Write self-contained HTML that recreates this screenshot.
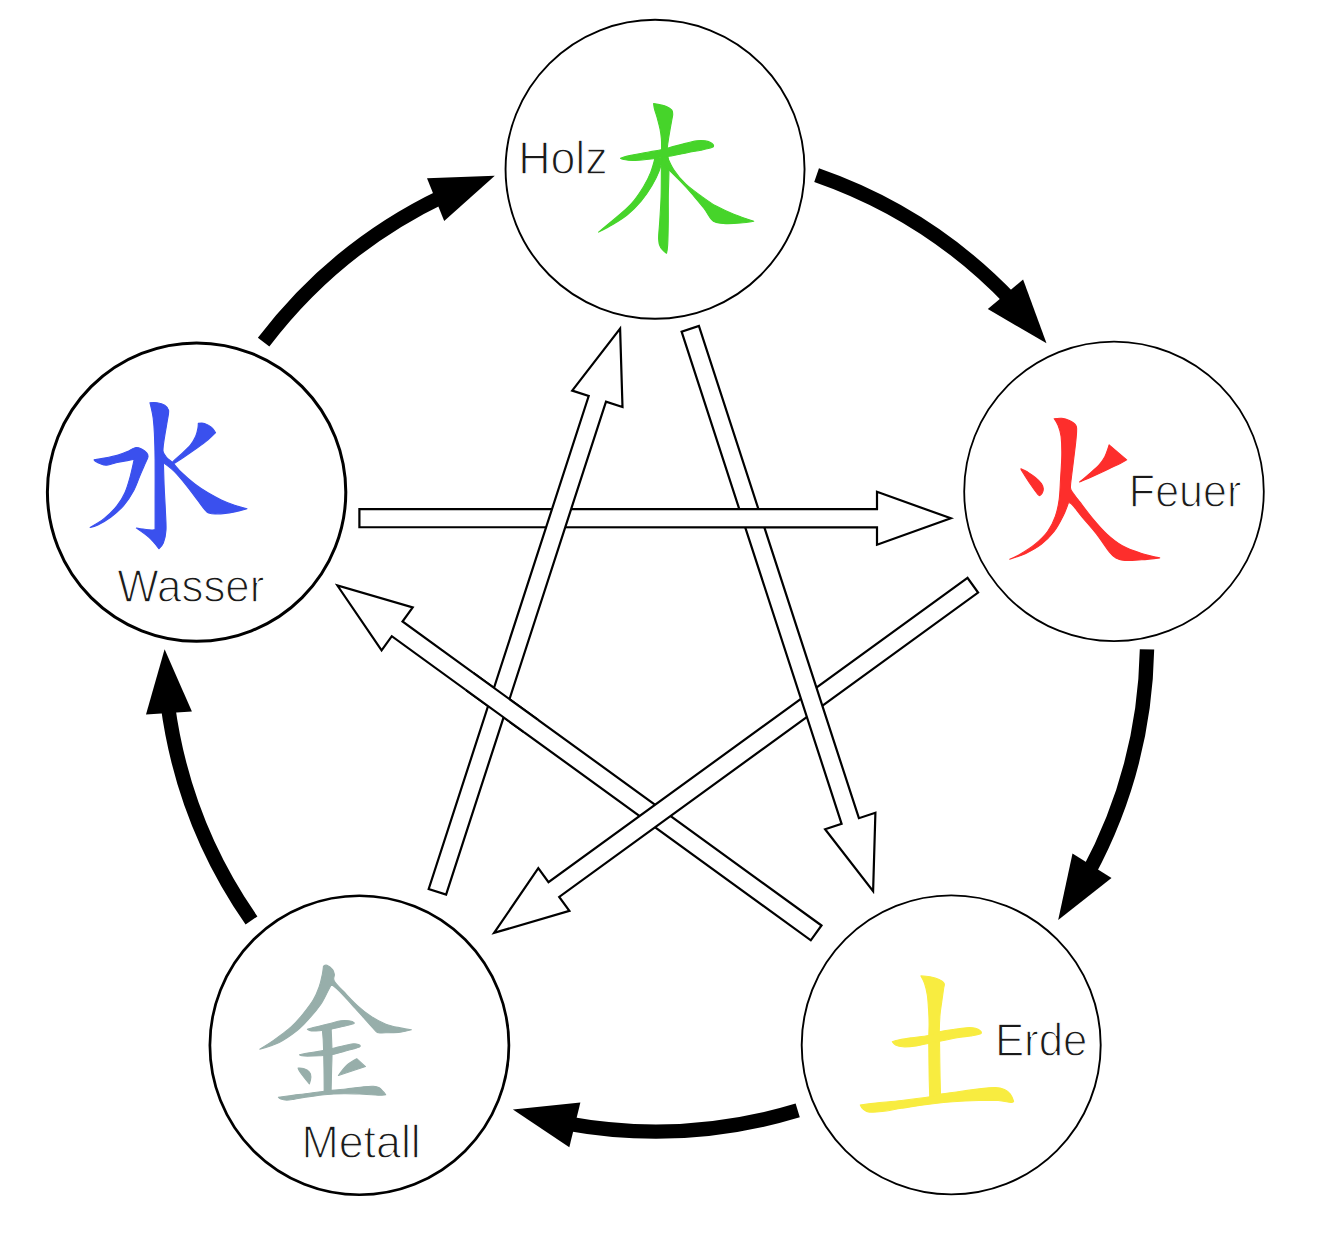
<!DOCTYPE html><html><head><meta charset="utf-8"><style>html,body{margin:0;padding:0;background:#fff;}svg{display:block}text{font-family:"Liberation Sans",sans-serif;}</style></head><body>
<svg width="1320" height="1244" viewBox="0 0 1320 1244">
<rect width="1320" height="1244" fill="#fff"/>
<circle cx="655.05" cy="169.3" r="149.5" fill="#fff" stroke="#000" stroke-width="1.9"/>
<circle cx="1114" cy="491.4" r="149.8" fill="#fff" stroke="#000" stroke-width="1.8"/>
<circle cx="951.2" cy="1044.9" r="149.5" fill="#fff" stroke="#000" stroke-width="1.9"/>
<circle cx="359.4" cy="1045.25" r="149.5" fill="#fff" stroke="#000" stroke-width="2.7"/>
<circle cx="196.6" cy="492.1" r="149.2" fill="#fff" stroke="#000" stroke-width="3.0"/>
<g fill="#46d42a" stroke="#46d42a" stroke-width="1.1" stroke-linejoin="round"><path d="M653.6 103.6C653.6 103.6 663.4 105.3 666.4 106.4C669.4 107.5 670.8 108.7 671.8 110C672.8 111.3 672.7 112.8 672.7 114.5C672.7 116.2 672.2 117.4 671.8 120C671.3 122.6 670.6 126.5 670 130C669.4 133.5 668.7 137.6 668.2 140.9C667.8 144.2 667.2 145.6 667.3 150C667.4 154.4 668.7 159.6 668.9 167.3C669.1 175 668.4 187.5 668.3 196.4C668.2 205.3 668.4 212.5 668.3 220.6C668.2 228.7 668 239.4 667.7 244.8C667.4 250.2 666.5 253.3 666.5 253.3C666.5 253.3 661.8 249.7 660.5 247.3C659.2 244.9 658.7 243.2 658.6 238.8C658.5 234.4 659.4 227.7 659.8 220.6C660.2 213.5 660.8 205.5 661.1 196.4C661.4 187.3 661.3 173.8 661.4 166.1C661.5 158.4 661.6 154.5 661.6 150C661.6 145.5 661.7 142.5 661.4 139C661.1 135.5 660.7 132.5 660 129C659.3 125.5 658.2 121.5 657.3 118.2C656.4 114.9 655.1 111.4 654.5 109C653.9 106.6 653.6 103.6 653.6 103.6Z"/><path d="M620.5 158.2C620.5 158.2 624.7 156.7 628.2 155.9C631.8 155.1 637.2 154 641.8 153.2C646.3 152.4 651 151.8 655.5 150.9C660 150 664.6 148.8 669.1 147.7C673.6 146.6 678.2 145.2 682.7 144.1C687.2 143 692.6 141.4 696.4 140.9C700.2 140.4 702.9 140.5 705.5 140.9C708.1 141.3 710.4 142.4 711.8 143.2C713.1 144 713.6 145.1 713.6 145.8C713.6 146.5 713.9 146.9 711.8 147.6C709.7 148.3 705 149.3 700.9 150.2C696.8 151 691.8 151.8 687.3 152.7C682.8 153.6 678.1 154.7 673.6 155.5C669.1 156.3 664.5 157 660 157.7C655.5 158.4 650.9 159 646.4 159.5C641.9 160 636.5 160.5 632.7 160.5C628.9 160.5 625.6 159.8 623.6 159.4C621.6 159 620.5 158.2 620.5 158.2Z"/><path d="M655 158C655 158 652.7 167.3 650.8 172.1C648.9 176.9 646.7 181.4 643.5 186.7C640.3 191.9 635.9 198.6 631.4 203.6C626.9 208.6 622.3 212.2 616.8 217C611.3 221.7 598.6 232.1 598.6 232.1C598.6 232.1 608.4 227.1 613.2 224.2C618.1 221.3 623.1 218.3 627.7 214.5C632.4 210.7 637.1 206 641.1 201.2C645.1 196.4 649 190.6 652 185.5C655 180.4 657.5 175.5 659.2 170.9C661 166.3 662.5 158 662.5 158C662.5 158 655 158 655 158Z"/><path d="M667 156C667 156 670.6 165 673.8 169.7C676.9 174.4 681.2 179.8 685.9 184.2C690.5 188.6 696.7 192.8 701.7 196.4C706.8 200.1 710.8 203.1 716.2 206.1C721.7 209.1 728.1 212 734.4 214.5C740.7 217 753.8 221.2 753.8 221.2C753.8 221.2 745.1 222.6 740.5 223C735.9 223.4 729.9 223.7 725.9 223.6C721.9 223.5 718.6 223.1 716.2 222.4C713.8 221.7 713.4 221.7 711.4 219.4C709.4 217.1 707.3 212.8 704.1 208.5C700.9 204.2 696 198.6 692 193.9C688 189.2 684.3 185.2 679.8 180.6C675.3 175.9 665 166 665 166C665 166 667 156 667 156Z"/></g>
<g fill="#fd2e2c" stroke="#fd2e2c" stroke-width="1.1" stroke-linejoin="round"><path d="M1054.2 418.7C1054.2 418.7 1059.3 418 1061.8 418.3C1064.3 418.6 1067.1 419.5 1069.4 420.6C1071.7 421.8 1074.6 423.4 1075.8 425.2C1077 427 1076.6 428 1076.6 431.2C1076.5 434.4 1076.1 438.8 1075.5 444.1C1074.9 449.4 1073.9 457.3 1073.2 463C1072.5 468.7 1071.8 474 1071.3 478.2C1070.8 482.4 1070.2 485.5 1070.5 488C1070.8 490.5 1071.7 491 1073.2 493.3C1074.8 495.6 1076.5 497.7 1079.8 501.9C1083 506.1 1088.2 513.2 1092.7 518.6C1097.2 524 1102 529.6 1106.9 534.1C1111.8 538.6 1116.5 542.5 1122.3 545.7C1128.1 548.9 1135.5 551.4 1141.7 553.4C1147.9 555.4 1159.7 557.9 1159.7 557.9C1159.7 557.9 1147.5 559.4 1141.7 559.8C1135.9 560.2 1129.2 560.8 1124.9 560.5C1120.6 560.2 1118.5 559.3 1115.9 557.9C1113.3 556.5 1112.7 556.1 1109.5 552.1C1106.3 548.1 1101.1 539.9 1096.6 534.1C1092.1 528.3 1086.5 522.2 1082.4 517.3C1078.3 512.4 1074.4 506.9 1072.1 504.5C1069.8 502.1 1068.3 503 1068.3 503C1068.3 503 1065.5 511.4 1063.1 516.1C1060.7 520.9 1057.8 526.8 1054.1 531.5C1050.4 536.2 1045.9 540.8 1041.2 544.4C1036.5 548 1031 550.9 1025.8 553.4C1020.5 555.9 1009.7 559.2 1009.7 559.2C1009.7 559.2 1015.1 557.2 1019.3 554.7C1023.5 552.2 1030.1 548.3 1034.8 544.4C1039.5 540.5 1044.2 536.2 1047.6 531.5C1051 526.8 1053.5 521.5 1055.4 516.1C1057.3 510.7 1058.4 505.3 1059.2 499.3C1060 493.3 1060.1 487.3 1060.5 480C1060.9 472.7 1061.7 462.8 1061.8 455.5C1061.9 448.2 1061.7 441.6 1061.1 436.5C1060.5 431.4 1059.2 428.2 1058 425.2C1056.8 422.2 1054.2 418.7 1054.2 418.7Z"/><path d="M1020.9 468.7C1020.9 468.7 1025.3 470.7 1027.7 472.1C1030.1 473.6 1033 475.5 1035.3 477.4C1037.6 479.3 1040.1 481.6 1041.4 483.5C1042.7 485.4 1043.2 487.2 1043.3 488.8C1043.4 490.4 1042.7 492.2 1042.1 493.3C1041.5 494.4 1039.8 495.6 1039.8 495.6C1039.8 495.6 1039 495.7 1037.6 494.1C1036.2 492.5 1033.5 488.7 1031.5 485.8C1029.5 482.9 1027.1 479.2 1025.5 476.7C1023.9 474.2 1022.5 471.9 1021.7 470.6C1020.9 469.3 1020.9 468.7 1020.9 468.7Z"/><path d="M1109.1 444.8C1109.1 444.8 1126.7 459.8 1126.7 459.8C1126.7 459.8 1123.7 461.7 1120.7 463.2C1117.7 464.7 1113 466.8 1108.6 468.9C1104.2 471 1098.9 473.5 1094.1 475.7C1089.3 477.9 1079.6 482 1079.6 482C1079.6 482 1086.1 476.6 1089.3 473.8C1092.5 471 1096.3 467.9 1098.9 465.1C1101.5 462.3 1103.2 459.5 1104.7 456.9C1106.2 454.3 1106.9 451.6 1107.6 449.6C1108.3 447.6 1109.1 444.8 1109.1 444.8Z"/></g>
<g fill="#f8ec40" stroke="#f8ec40" stroke-width="1.1" stroke-linejoin="round"><path d="M920.9 975.9C920.9 975.9 927 976.2 930 976.8C933 977.4 936.8 978.4 939.1 979.5C941.5 980.6 943.4 981.7 944.1 983.2C944.9 984.7 944 985.6 943.6 988.6C943.2 991.6 942.4 997 941.8 1001.4C941.2 1005.8 940.4 1010.1 940 1015C939.6 1019.9 939.4 1025.3 939.3 1030.5C939.2 1035.7 939.5 1038.4 939.6 1046.4C939.7 1054.4 939.9 1070 940.1 1078.6C940.3 1087.2 940.6 1098 940.6 1098C940.6 1098 929.8 1098 929.8 1098C929.8 1098 929.4 1087.2 929.2 1078.6C929 1070 928.9 1053.4 928.8 1046.4C928.7 1039.4 928.8 1040.5 928.8 1036.8C928.8 1033.1 929.1 1028.5 929.1 1024.1C929.1 1019.7 928.9 1015.4 928.6 1010.5C928.3 1005.6 928 999.5 927.3 995C926.6 990.5 925.6 986.4 924.5 983.2C923.4 980 920.9 975.9 920.9 975.9Z"/><path d="M892.3 1041.8C892.3 1041.8 895 1040.7 898.2 1040C901.5 1039.3 906.7 1038.5 911.8 1037.7C916.9 1037 924 1036.5 928.6 1035.5C933.2 1034.5 935.1 1032.8 939.1 1031.8C943.1 1030.8 948.2 1030.2 952.7 1029.5C957.2 1028.8 962.6 1027.9 966.4 1027.7C970.2 1027.5 973.1 1027.6 975.5 1028.2C977.9 1028.8 980.1 1030.4 980.9 1031.4C981.6 1032.4 981.7 1033.3 980 1034.1C978.3 1034.8 974.7 1035.3 970.9 1035.9C967.1 1036.5 961.8 1036.9 957.3 1037.7C952.8 1038.5 948.3 1039.6 943.6 1040.5C938.9 1041.4 933.6 1042.3 929.1 1043.2C924.6 1044.1 920.8 1045.3 916.4 1045.9C912 1046.5 906.2 1047 902.7 1046.8C899.2 1046.6 897.2 1045.8 895.5 1045C893.8 1044.2 892.3 1041.8 892.3 1041.8Z"/><path d="M860.3 1105C860.3 1105 868.9 1103.8 875.8 1103.1C882.7 1102.3 892.5 1101.6 901.5 1100.5C910.5 1099.4 923.2 1097.8 929.8 1096.7C936.3 1095.6 935.8 1095 940.8 1094.1C945.8 1093.2 953.2 1092.4 959.5 1091.5C965.8 1090.6 972.8 1089.6 978.8 1088.9C984.8 1088.2 991.2 1087.5 995.5 1087.6C999.8 1087.7 1002 1088.5 1004.5 1089.6C1007 1090.7 1008.8 1092.2 1010.3 1094.1C1011.8 1096 1013.6 1101.2 1013.6 1101.2C1013.6 1101.2 1013.6 1102.6 1011 1102.5C1008.4 1102.4 1003.5 1100.8 998.1 1100.5C992.7 1100.2 986.3 1100.3 978.8 1100.5C971.3 1100.7 961.6 1101.1 953 1101.8C944.4 1102.5 935.9 1103.3 927.3 1104.4C918.7 1105.5 909 1107.1 901.5 1108.3C894 1109.5 887.6 1110.9 882.2 1111.5C876.8 1112.1 872.5 1112.5 869.3 1112.1C866.1 1111.7 864.4 1110.1 862.9 1108.9C861.4 1107.7 860.3 1105 860.3 1105Z"/></g>
<g fill="#97aeaa" stroke="#97aeaa" stroke-width="1.1" stroke-linejoin="round"><path d="M323.5 966.1C323.5 966.1 325.5 964.7 327 965.3C328.5 965.9 331.4 968.2 332.6 969.7C333.8 971.2 334.1 972.6 334.4 974.5C334.7 976.4 332.5 978 334.4 981.2C336.3 984.4 342 989.8 345.9 993.9C349.8 998 353.9 1002.5 358 1006.1C362.1 1009.8 365.6 1012.8 370.2 1015.8C374.8 1018.8 380.8 1022.2 385.9 1024.2C390.9 1026.2 396.2 1027 400.5 1027.9C404.8 1028.8 411.4 1029.7 411.4 1029.7C411.4 1029.7 404.4 1031.6 400.5 1032.1C396.6 1032.6 391.9 1032.6 388.3 1032.7C384.7 1032.8 380.8 1033.1 378.6 1032.7C376.4 1032.3 377.4 1032.7 375 1030.3C372.6 1027.9 367.9 1022.5 364.1 1018.2C360.3 1014 356.1 1009.2 352 1004.8C347.9 1000.3 343.2 994.9 339.8 991.5C336.4 988.1 331.4 984.2 331.4 984.2C331.4 984.2 329.5 988.1 327.7 991.5C325.9 994.9 323.5 1000.3 320.5 1004.8C317.5 1009.2 313.4 1014 309.5 1018.2C305.6 1022.5 302.4 1026.3 297.4 1030.3C292.3 1034.3 285.5 1039.3 279.2 1042.4C272.9 1045.5 259.8 1049.1 259.8 1049.1C259.8 1049.1 267.9 1044.3 273.2 1040.6C278.5 1036.9 286.3 1031.2 291.4 1026.7C296.4 1022.2 299.9 1017.8 303.5 1013.3C307.1 1008.8 310.6 1004.4 313.2 1000C315.8 995.6 317.7 991 319.2 986.7C320.7 982.5 321.6 977.9 322.3 974.5C323 971.1 323.5 966.1 323.5 966.1Z"/><path d="M307.4 1029.2C307.4 1029.2 310.7 1028.1 314.3 1027.2C317.9 1026.3 324.7 1024.9 329.1 1023.8C333.5 1022.7 337.6 1021.3 340.9 1020.8C344.2 1020.3 346.6 1020.5 348.8 1020.8C351 1021.1 353.7 1022.2 354.2 1022.8C354.7 1023.4 353.4 1023.7 351.7 1024.3C350 1024.9 347.3 1025.4 343.9 1026.2C340.5 1027 335.2 1028.5 331.1 1029.2C327 1030 322.5 1030.4 319.2 1030.7C315.9 1031 313.4 1031.2 311.4 1030.9C309.4 1030.7 307.4 1029.2 307.4 1029.2Z"/><path d="M322.2 1028.5C322.2 1028.5 331.1 1028.5 331.1 1028.5C331.1 1028.5 331.5 1035.2 331.6 1039.5C331.8 1043.8 332 1049.4 332 1054.3C332 1059.2 331.8 1062.8 331.6 1069.1C331.5 1075.4 331.1 1092 331.1 1092C331.1 1092 324.2 1092 324.2 1092C324.2 1092 324.1 1075.4 324 1069.1C323.9 1062.8 323.8 1059.2 323.7 1054.3C323.6 1049.4 323.4 1043.8 323.2 1039.5C322.9 1035.2 322.2 1028.5 322.2 1028.5Z"/><path d="M299.5 1054.8C299.5 1054.8 305.3 1053.5 309.4 1052.8C313.5 1052.1 319.3 1051.4 324.2 1050.4C329.1 1049.4 334.3 1048 338.9 1046.9C343.5 1045.8 348.4 1044.4 351.7 1044C355 1043.6 357.2 1044.1 358.6 1044.5C360 1044.9 360.4 1045.8 360.1 1046.4C359.8 1047 359.4 1047.1 356.7 1047.9C354 1048.7 348.2 1050.2 343.9 1051.4C339.6 1052.6 335.2 1054.1 331.1 1054.8C327 1055.5 323.1 1055.6 319.2 1055.8C315.2 1056 310.3 1056.1 307.4 1056.1C304.5 1056.1 303.3 1056 302 1055.8C300.7 1055.6 299.5 1054.8 299.5 1054.8Z"/><path d="M298.1 1068.1C298.1 1068.1 301.6 1067.9 303.5 1068.6C305.4 1069.2 308.2 1070.6 309.4 1072C310.6 1073.4 310.9 1075 310.9 1077C310.9 1079 309.4 1083.9 309.4 1083.9C309.4 1083.9 306.1 1080.1 304.5 1078C302.9 1075.9 300.6 1072.8 299.5 1071.1C298.4 1069.4 298.1 1068.1 298.1 1068.1Z"/><path d="M356.7 1058.7C356.7 1058.7 365.5 1066.6 365.5 1066.6C365.5 1066.6 338.4 1075.5 338.4 1075.5C338.4 1075.5 343.8 1068 346.8 1065.2C349.9 1062.4 356.7 1058.7 356.7 1058.7Z"/><path d="M278.4 1097.2C278.4 1097.2 284.5 1096.4 289.7 1095.7C294.9 1095 303.6 1094 309.4 1093.2C315.1 1092.5 318.4 1091.9 324.2 1091.2C329.9 1090.5 337.3 1090 343.9 1089.3C350.5 1088.6 358.7 1087.3 363.6 1086.8C368.5 1086.3 370.8 1086.1 373.4 1086.3C376 1086.5 377.6 1086.9 379.3 1087.8C381 1088.7 382.2 1090.5 383.3 1091.7C384.4 1092.9 385.7 1094.7 385.7 1094.7C385.7 1094.7 382 1095.3 378.3 1095.2C374.6 1095.1 369.3 1094.5 363.6 1094.2C357.9 1094 350.5 1093.6 343.9 1093.7C337.3 1093.8 329.9 1094.2 324.2 1094.7C318.4 1095.2 314.3 1096 309.4 1096.7C304.5 1097.4 298.4 1098.5 294.6 1099.1C290.8 1099.7 289 1100.1 286.7 1100.1C284.4 1100.1 282.2 1099.6 280.8 1099.1C279.4 1098.6 278.4 1097.2 278.4 1097.2Z"/></g>
<g fill="#3a50ee" stroke="#3a50ee" stroke-width="1.1" stroke-linejoin="round"><path d="M149.9 402.7C149.9 402.7 154.5 402.3 157 402.7C159.5 403.1 162.8 404 164.7 405.3C166.6 406.6 168.2 407.8 168.6 410.4C169 413 168 416.4 167.3 420.7C166.7 425 165.4 431.4 164.7 436.1C164 440.8 163.2 444.5 163 449C162.8 453.5 163.2 457.1 163.4 463.1C163.6 469.1 163.8 477.1 164.1 485C164.4 492.9 165.1 503.2 165.4 510.7C165.7 518.2 166.3 524.6 166 530C165.7 535.4 164.6 539.8 163.4 542.9C162.2 546 158.9 548.7 158.9 548.7C158.9 548.7 153.1 541.1 149.3 537.7C145.6 534.3 136.4 528.1 136.4 528.1C136.4 528.1 137.7 528.4 140.3 528.7C142.9 529 149.4 529.9 151.9 530C154.4 530.1 155.1 529.4 155.1 529.4C155.1 529.4 155.1 528.9 155.1 523.6C155.1 518.4 155.1 508.6 155.1 497.9C155.1 487.2 155.2 470 155.1 459.3C155 448.6 154.7 440.5 154.4 433.6C154.1 426.7 153.7 422.4 153.2 418.1C152.7 413.8 151.8 410.5 151.2 407.9C150.6 405.3 149.9 402.7 149.9 402.7Z"/><path d="M94 459.9C94 459.9 100.5 458.8 104.3 458C108.1 457.2 113.2 456.5 117.1 455.4C120.9 454.3 124.4 452.9 127.4 451.6C130.4 450.3 132.7 448.1 135.1 447.7C137.5 447.3 139.7 448.1 141.6 449C143.5 449.9 145.6 451.6 146.7 452.9C147.8 454.2 148.2 455 148 456.7C147.8 458.4 146.7 460.1 145.4 463.1C144.1 466.1 142.2 470.2 140.3 474.7C138.4 479.2 136.7 485 133.9 490.2C131.1 495.4 127.5 501.1 123.6 505.6C119.7 510.1 115 514 110.7 517.2C106.4 520.4 101.3 523.2 97.9 524.9C94.5 526.6 90.1 527.4 90.1 527.4C90.1 527.4 99.8 522 104.3 518.4C108.8 514.8 113.7 509.9 117.1 505.6C120.5 501.3 122.8 497.4 124.9 492.7C127.1 488 128.5 482.6 130 477.3C131.5 472 133.2 463.6 133.9 460.6C134.7 457.6 134.5 459.3 134.5 459.3C134.5 459.3 130.3 460.1 127.4 460.6C124.5 461.1 120.5 461.8 117.1 462.5C113.7 463.2 109.7 464.9 106.9 465.1C104.1 465.3 102.3 464.5 100.4 463.8C98.5 463.1 96.4 461.9 95.3 461.2C94.2 460.5 94 459.9 94 459.9Z"/><path d="M198.3 423.4C198.3 423.4 202.3 422.7 204.5 423.4C206.7 424.1 209.8 425.8 211.6 427.4C213.4 428.9 215.6 432.7 215.6 432.7C215.6 432.7 211 437.3 208 439.8C205 442.3 201.1 445.1 197.4 447.7C193.7 450.3 189.7 453.1 185.9 455.7C182.1 458.3 174.5 463.2 174.5 463.2C174.5 463.2 171.5 463.4 172.7 461.9C173.9 460.3 178.6 456.7 181.5 453.9C184.4 451.1 188 448.1 190.4 445.1C192.8 442.2 194.4 439 195.7 436.2C196.9 433.4 197.5 430.4 197.9 428.3C198.3 426.2 198.3 423.4 198.3 423.4Z"/><path d="M162 450C162 450 164.7 455.3 166.5 457.4C168.3 459.5 170.2 460.2 172.7 462.7C175.2 465.2 177.8 468.9 181.5 472.5C185.2 476.1 190.4 480.6 194.8 484C199.2 487.4 203.6 490.2 208 492.8C212.4 495.4 216.9 497.8 221.3 499.9C225.7 502 230.3 503.7 234.6 505.2C238.9 506.7 247 508.7 247 508.7C247 508.7 242.2 510.2 239 510.9C235.8 511.6 231.5 512.6 227.5 513.1C223.5 513.6 218.2 514 215.1 514C212 514 210.5 513.7 208.9 513.1C207.3 512.5 207.3 512.7 205.4 510.5C203.5 508.3 200.7 504.2 197.4 499.9C194.2 495.6 189.7 489.5 185.9 484.8C182.1 480.1 178 475.1 174.5 471.6C171 468.1 166.8 465.2 164.7 463.6C162.6 462 162 462 162 462C162 462 162 450 162 450Z"/></g>
<text opacity=".995" x="518.13" y="174.40" font-size="45.89" fill="#1a1a1a" stroke="#fff" stroke-width="1.3" textLength="89.52" lengthAdjust="spacingAndGlyphs">Holz</text>
<text opacity=".995" x="1128.86" y="507.05" font-size="45.89" fill="#1a1a1a" stroke="#fff" stroke-width="1.3" textLength="112.35" lengthAdjust="spacingAndGlyphs">Feuer</text>
<text opacity=".995" x="994.89" y="1056.45" font-size="45.89" fill="#1a1a1a" stroke="#fff" stroke-width="1.3" textLength="92.47" lengthAdjust="spacingAndGlyphs">Erde</text>
<text opacity=".995" x="301.45" y="1157.55" font-size="45.89" fill="#1a1a1a" stroke="#fff" stroke-width="1.3" textLength="119.37" lengthAdjust="spacingAndGlyphs">Metall</text>
<text opacity=".995" x="117.30" y="601.85" font-size="45.89" fill="#1a1a1a" stroke="#fff" stroke-width="1.3" textLength="147.02" lengthAdjust="spacingAndGlyphs">Wasser</text>
<path d="M816.6 175.1A491.8 491.8 0 0 1 1011.4 300.5" fill="none" stroke="#000" stroke-width="14.4"/><path d="M987.8 309.1L1046.5 343.3L1023.1 279.6Z" fill="#000"/>
<path d="M1147 649.3A491.8 491.8 0 0 1 1088 873.3" fill="none" stroke="#000" stroke-width="14.4"/><path d="M1072.5 853.6L1058.2 919.9L1111.5 877.9Z" fill="#000"/>
<path d="M797.7 1110.4A491.8 491.8 0 0 1 566.4 1123.4" fill="none" stroke="#000" stroke-width="14.4"/><path d="M580.4 1102.5L512.9 1109.4L569.3 1147.2Z" fill="#000"/>
<path d="M251.5 920.5A491.8 491.8 0 0 1 167.7 704.4" fill="none" stroke="#000" stroke-width="14.4"/><path d="M191.9 711.4L164.6 649.3L146 714.5Z" fill="#000"/>
<path d="M263.6 342.2A491.8 491.8 0 0 1 443.3 195.9" fill="none" stroke="#000" stroke-width="14.4"/><path d="M444.2 221L494.8 175.8L427 178.3Z" fill="#000"/>
<defs><clipPath id="cx"><circle cx="505" cy="697" r="40"/></clipPath></defs>
<path d="M821.5 925.5L402.5 621.5L412.7 607.4L337.4 585.5L381.6 650.3L391.8 636.2L810.8 940.3Z" fill="#fff" stroke="#000" stroke-width="2.2" stroke-linejoin="miter"/>
<path d="M967.5 577.8L548.5 882.2L538.3 868.1L494.1 932.9L569.4 910.9L559.2 896.9L978.1 592.6Z" fill="#fff" stroke="#000" stroke-width="2.2" stroke-linejoin="miter"/>
<path d="M681.6 331.7L841.6 823.8L825.1 829.2L873.1 891.2L875.4 812.8L858.9 818.2L698.9 326Z" fill="#fff" stroke="#000" stroke-width="2.2" stroke-linejoin="miter"/>
<path d="M359.4 527.2L877 527.4L877 544.7L950.8 518.3L877 491.8L877 509.2L359.4 509.1Z" fill="#fff" stroke="#000" stroke-width="2.2" stroke-linejoin="miter"/>
<path d="M446.1 894.6L606 401.6L622.5 407L620.1 328.6L572.2 390.6L588.7 396L428.7 889Z" fill="#fff" stroke="#000" stroke-width="2.2" stroke-linejoin="miter"/>
<path d="M821.5 925.5L402.5 621.5L412.7 607.4L337.4 585.5L381.6 650.3L391.8 636.2L810.8 940.3Z" fill="#fff" stroke="#000" stroke-width="2.2" stroke-linejoin="miter" clip-path="url(#cx)"/>
</svg></body></html>
